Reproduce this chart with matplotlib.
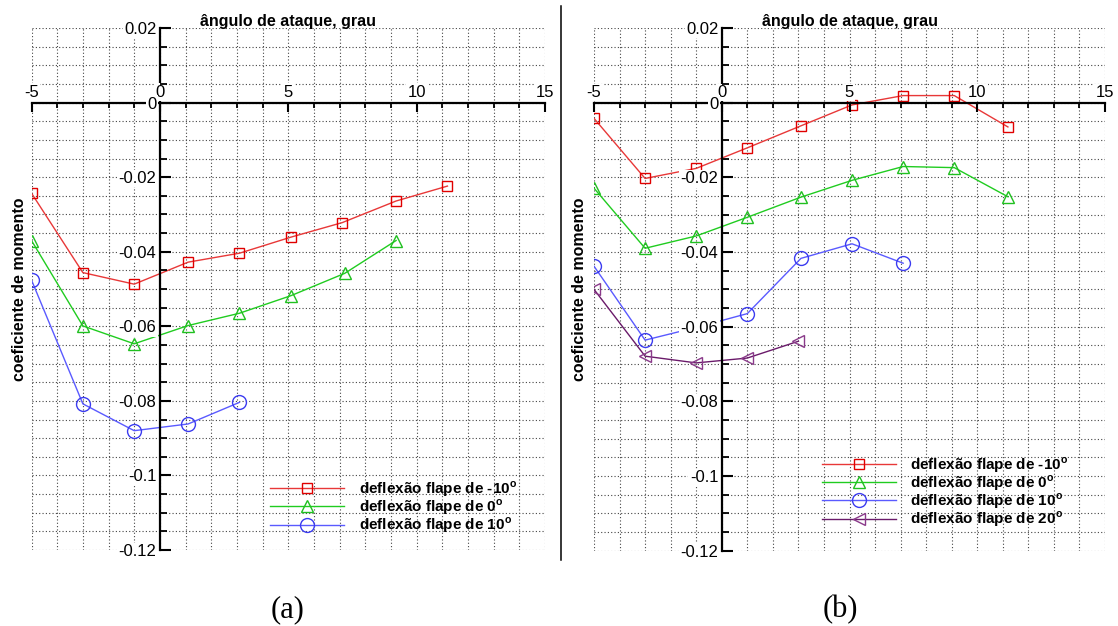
import matplotlib
matplotlib.use("Agg")
import matplotlib.pyplot as plt
from matplotlib.ticker import MultipleLocator, FixedLocator, FixedFormatter
from matplotlib.lines import Line2D

plt.rcParams['font.family'] = ['Liberation Sans', 'DejaVu Sans']
plt.rcParams['mathtext.fontset'] = 'custom'
plt.rcParams['mathtext.rm'] = 'Liberation Sans'
plt.rcParams['mathtext.bf'] = 'Liberation Sans:bold'

# eixo x / eixo y
x_ticks = [-5, 0, 5, 10, 15]
x_tick_labels = ['-5', '0', '5', '10', '15']
y_ticks = [0.02, 0, -0.02, -0.04, -0.06, -0.08, -0.1, -0.12]
y_tick_labels = ['0.02', '0', '-0.02', '-0.04', '-0.06', '-0.08', '-0.1', '-0.12']

# (a)
alpha_a_m10 = [-5.0, -3.0, -1.0, 1.1, 3.1, 5.1, 7.1, 9.2, 11.2]
cm_a_m10 = [-0.0243, -0.0456, -0.0487, -0.0428, -0.0404, -0.0361, -0.0322, -0.0264, -0.0224]
alpha_a_0 = [-5.0, -3.0, -1.0, 1.1, 3.1, 5.1, 7.2, 9.2]
cm_a_0 = [-0.0370, -0.0599, -0.0647, -0.0598, -0.0565, -0.0518, -0.0458, -0.0370]
alpha_a_10 = [-5.0, -3.0, -1.0, 1.1, 3.1]
cm_a_10 = [-0.0476, -0.0808, -0.0880, -0.0862, -0.0804]

# (b)
alpha_b_m10 = [-5.0, -3.0, -1.0, 1.0, 3.1, 5.1, 7.1, 9.1, 11.2]
cm_b_m10 = [-0.0042, -0.0203, -0.0176, -0.0121, -0.0062, -0.0006, 0.0019, 0.0019, -0.0065]
alpha_b_0 = [-5.0, -3.0, -1.0, 1.0, 3.1, 5.1, 7.1, 9.1, 11.2]
cm_b_0 = [-0.0229, -0.0390, -0.0357, -0.0307, -0.0253, -0.0208, -0.0171, -0.0174, -0.0252]
alpha_b_10 = [-5.0, -3.0, -1.0, 1.0, 3.1, 5.1, 7.1]
cm_b_10 = [-0.0438, -0.0636, -0.0602, -0.0565, -0.0417, -0.0378, -0.0430]
alpha_b_20 = [-5.0, -3.0, -1.0, 1.0, 3.0]
cm_b_20 = [-0.0500, -0.0679, -0.0697, -0.0684, -0.0639]

lbl_m10 = r'deflexão flape de -10$^{\mathbf{o}}$'
lbl_0 = r'deflexão flape de 0$^{\mathbf{o}}$'
lbl_10 = r'deflexão flape de 10$^{\mathbf{o}}$'
lbl_20 = r'deflexão flape de 20$^{\mathbf{o}}$'

W, H = 1118, 626
fig = plt.figure(figsize=(W / 100, H / 100), dpi=100)


def make_panel(left_px, right_px, top_px, bot_px):
    rect = [left_px / W, 1 - bot_px / H, (right_px - left_px) / W, (bot_px - top_px) / H]
    # grade pontilhada por baixo
    bg = fig.add_axes(rect, zorder=0)
    bg.set_xlim(-5, 15)
    bg.set_ylim(-0.12, 0.02)
    bg.xaxis.set_major_locator(MultipleLocator(1))
    bg.yaxis.set_major_locator(MultipleLocator(0.005))
    bg.grid(True, linestyle=(0, (1, 2)), color='#444444', lw=0.8)
    bg.tick_params(length=0, labelbottom=False, labelleft=False)
    for s in bg.spines.values():
        s.set_visible(False)

    ax = fig.add_axes(rect, zorder=1)
    ax.patch.set_visible(False)
    ax.set_axisbelow(False)
    ax.set_xlim(-5, 15)
    ax.set_ylim(-0.12, 0.02)
    ax.spines['right'].set_visible(False)
    ax.spines['bottom'].set_visible(False)
    ax.spines['left'].set_position(('data', 0))
    ax.spines['top'].set_position(('data', 0))
    ax.spines['left'].set_linewidth(1.6)
    ax.spines['top'].set_linewidth(1.6)
    ax.xaxis.set_ticks_position('top')
    ax.yaxis.set_ticks_position('left')
    ax.xaxis.set_major_locator(FixedLocator(x_ticks))
    ax.xaxis.set_major_formatter(FixedFormatter(x_tick_labels))
    ax.xaxis.set_minor_locator(MultipleLocator(1))
    ax.yaxis.set_major_locator(FixedLocator(y_ticks))
    ax.yaxis.set_major_formatter(FixedFormatter(y_tick_labels))
    ax.yaxis.set_minor_locator(MultipleLocator(0.005))
    ax.tick_params(axis='x', which='major', direction='in', length=6.5, width=1.5,
                   labelsize=12, pad=2)
    ax.tick_params(axis='x', which='minor', direction='in', length=3.5, width=1.3)
    ax.tick_params(axis='y', which='major', direction='in', length=8, width=1.5,
                   labelsize=12, pad=2.5)
    ax.tick_params(axis='y', which='minor', direction='in', length=5, width=1.3)
    for t in ax.get_xticklabels() + ax.get_yticklabels():
        t.set_bbox(dict(facecolor='white', edgecolor='none', pad=1))
    ax.text(0.5, 1.004, 'ângulo de ataque, grau', transform=ax.transAxes,
            ha='center', va='baseline', fontsize=11.5, fontweight='bold')
    return ax


axa = make_panel(31.5, 545, 28, 550)
axb = make_panel(594, 1105, 28, 550.7)

red_l, red_m = '#e83838', '#e00000'
green_l, green_m = '#20cc20', '#20c020'
blue_l, blue_m = '#5a5aff', '#3c3cf0'
purp_l, purp_m = '#6a1a6a', '#8a3a8a'


def series(ax, x, y, lc, mc, marker, ms, label):
    ax.plot(x, y, color=lc, lw=1.0, marker=marker, ms=ms, mfc='none', mec=mc,
            mew=1.0, label=label, zorder=2)


series(axa, alpha_a_m10, cm_a_m10, red_l, red_m, 's', 7, lbl_m10)
series(axa, alpha_a_0, cm_a_0, green_l, green_m, '^', 9, lbl_0)
series(axa, alpha_a_10, cm_a_10, blue_l, blue_m, 'o', 10, lbl_10)

series(axb, alpha_b_m10, cm_b_m10, red_l, red_m, 's', 7, lbl_m10)
series(axb, alpha_b_0, cm_b_0, green_l, green_m, '^', 9, lbl_0)
series(axb, alpha_b_10, cm_b_10, blue_l, blue_m, 'o', 10, lbl_10)
series(axb, alpha_b_20, cm_b_20, purp_l, purp_m, '<', 9, lbl_20)

for ax, anchor in [(axa, (0.4645, 0.1356)), (axb, (0.4456, 0.183))]:
    ax.legend(loc='upper left', bbox_to_anchor=anchor, frameon=False,
              prop={'weight': 'bold', 'size': 11}, handlelength=4.85,
              handletextpad=0.95, labelspacing=-0.1, borderpad=0, borderaxespad=0)

axa.yaxis.set_label_coords(-0.0095, 0.5)
axb.yaxis.set_label_coords(-0.0145, 0.5)
for ax in (axa, axb):
    ax.set_ylabel('coeficiente de momento', fontsize=11.5, fontweight='bold')

fig.text(288 / W, 1 - 610 / H, '(a)', ha='center', va='center', fontsize=22,
         family='Liberation Serif')
fig.text(840 / W, 1 - 610 / H, '(b)', ha='center', va='center', fontsize=22,
         family='Liberation Serif')

fig.add_artist(Line2D([560.7 / W, 560.7 / W], [1 - 6 / H, 1 - 560 / H],
                      transform=fig.transFigure, color='black', lw=1.1))

fig.savefig('out.png', dpi=100)
